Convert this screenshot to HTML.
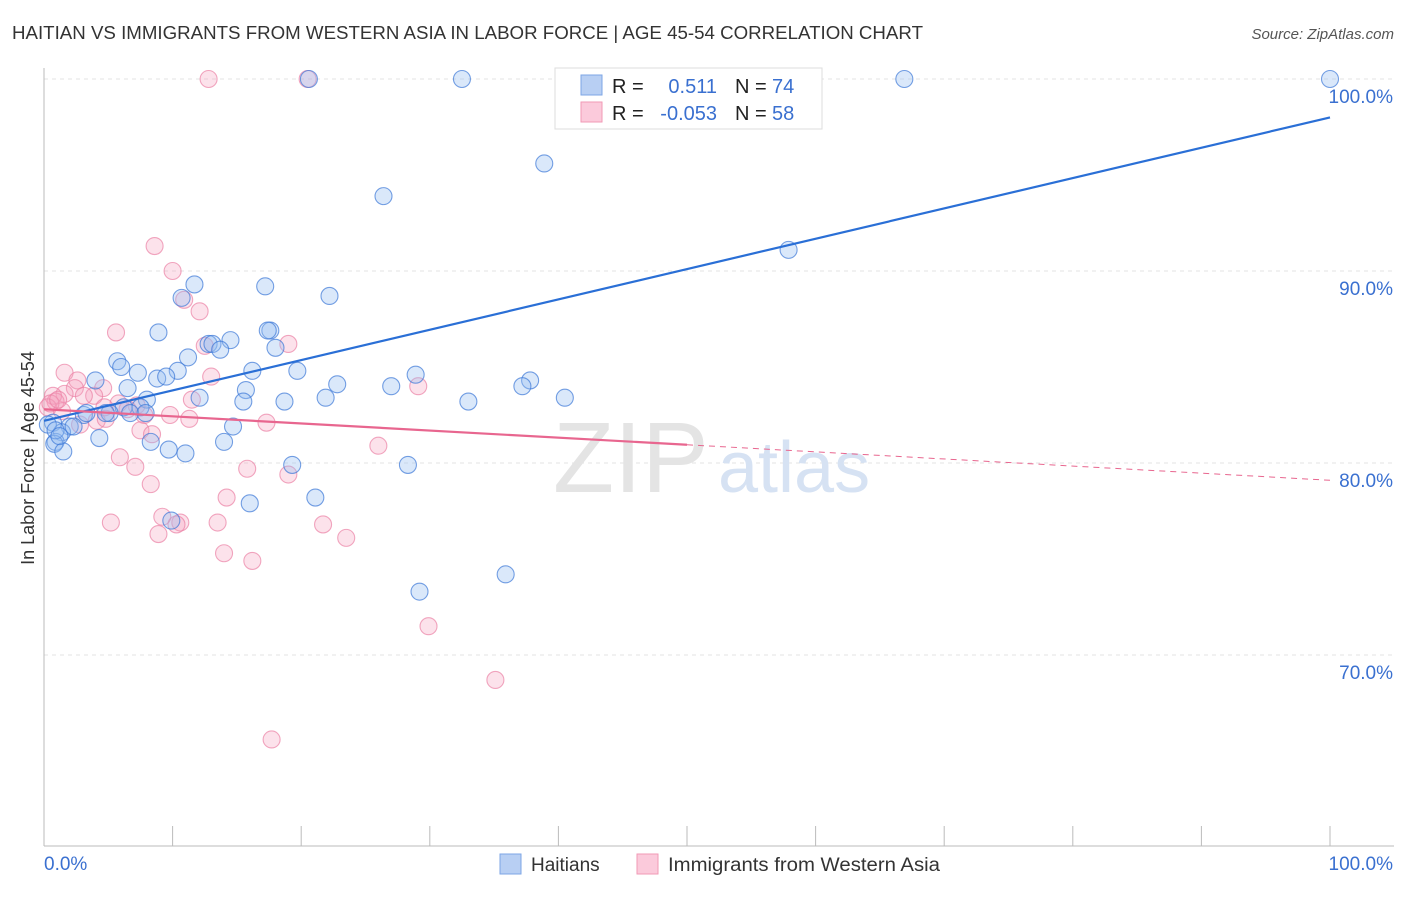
<!DOCTYPE html>
<html><head><meta charset="utf-8"><style>
body{margin:0;background:#fff;font-family:"Liberation Sans",sans-serif;}
svg text{font-family:"Liberation Sans",sans-serif;}
</style></head><body>
<svg id="chart" width="1406" height="892" xmlns="http://www.w3.org/2000/svg">
<text x="12" y="39" font-size="18" fill="#333" textLength="911" lengthAdjust="spacingAndGlyphs">HAITIAN VS IMMIGRANTS FROM WESTERN ASIA IN LABOR FORCE | AGE 45-54 CORRELATION CHART</text>
<text x="1394" y="39" font-size="15" fill="#555" font-style="italic" text-anchor="end">Source: ZipAtlas.com</text>
<g id="grid"></g>
<text x="553" y="492" font-size="100" fill="#e4e4e4" font-family="Liberation Serif">ZIP</text>
<text x="718" y="492" font-size="72" fill="#d6e2f3">atlas</text>
<text transform="translate(34,458) rotate(-90)" font-size="18" fill="#333" text-anchor="middle">In Labor Force | Age 45-54</text>
<g id="pts"></g>
<g id="lines"></g>
<g>
<rect x="555" y="68" width="267" height="61" fill="#fff" stroke="#ddd"/>
<rect x="581" y="75" width="21" height="20" fill="#b8cff3" stroke="#7da6e6"/>
<rect x="581" y="102" width="21" height="20" fill="#fbcadb" stroke="#f199b6"/>
<text x="612" y="93" font-size="20" fill="#222">R =</text>
<text x="717" y="93" font-size="20" fill="#3a70d0" text-anchor="end">0.511</text>
<text x="735" y="93" font-size="20" fill="#222">N =</text>
<text x="772" y="93" font-size="20" fill="#3a70d0">74</text>
<text x="612" y="120" font-size="20" fill="#222">R =</text>
<text x="717" y="120" font-size="20" fill="#3a70d0" text-anchor="end">-0.053</text>
<text x="735" y="120" font-size="20" fill="#222">N =</text>
<text x="772" y="120" font-size="20" fill="#3a70d0">58</text>
</g>
<g>
<rect x="500" y="854" width="21" height="20" fill="#b8cff3" stroke="#7da6e6"/>
<text x="531" y="871" font-size="19" fill="#333">Haitians</text>
<rect x="637" y="854" width="21" height="20" fill="#fbcadb" stroke="#f199b6"/>
<text x="668" y="871" font-size="19" fill="#333" textLength="272" lengthAdjust="spacingAndGlyphs">Immigrants from Western Asia</text>
</g>
</svg>
<script>
const yTicks=[100,90,80,70];
const xTickLabels=["0.0%","100.0%"];
const blueX=[20.6,32.5,66.9,100,38.9,26.4,57.9,11.7,17.2,10.7,22.2,8.9,17.6,17.4,14.5,12.8,13.1,13.7,18.0,11.2,5.7,6.0,7.3,10.4,19.7,16.2,28.9,37.8,4.0,8.8,9.5,6.5,15.7,22.8,27.0,37.2,40.5,12.1,21.9,18.7,8.0,15.5,33.0,6.2,7.5,5.1,3.1,4.8,3.3,14.7,0.7,2.0,1.4,2.3,8.3,14.0,0.9,4.3,0.8,1.5,9.7,11.0,19.3,28.3,21.1,16.0,9.9,35.9,29.2,0.3,0.9,6.7,7.9,1.2];
const blueY=[100,100,100,100,95.6,93.9,91.1,89.3,89.2,88.6,88.7,86.8,86.9,86.9,86.4,86.2,86.2,85.9,86.0,85.5,85.3,85.0,84.7,84.8,84.8,84.8,84.6,84.3,84.3,84.4,84.5,83.9,83.8,84.1,84.0,84.0,83.4,83.4,83.4,83.2,83.3,83.2,83.2,82.9,82.9,82.6,82.5,82.6,82.6,81.9,82.1,81.9,81.6,81.9,81.1,81.1,81.1,81.3,81.0,80.6,80.7,80.5,79.9,79.9,78.2,77.9,77.0,74.2,73.3,82.0,81.7,82.6,82.6,81.4];
const pinkX=[12.8,20.5,8.6,10.0,10.9,12.1,5.6,19.0,12.5,1.6,2.6,13.0,29.1,2.4,4.6,3.9,1.6,0.7,0.9,3.1,5.8,11.5,7.2,6.5,7.8,11.3,17.3,4.1,7.5,4.8,5.9,7.1,15.8,19.0,8.3,26.0,14.2,5.2,9.2,10.6,13.5,10.3,8.9,21.7,23.5,14.0,16.2,29.9,35.1,17.7,0.3,1.4,8.4,2.8,0.5,1.1,4.7,9.8];
const pinkY=[100,100,91.3,90.0,88.5,87.9,86.8,86.2,86.1,84.7,84.3,84.5,84.0,83.9,83.9,83.5,83.6,83.5,83.2,83.5,83.1,83.3,83.0,82.8,82.5,82.3,82.1,82.2,81.7,82.3,80.3,79.8,79.7,79.4,78.9,80.9,78.2,76.9,77.2,76.9,76.9,76.8,76.3,76.8,76.1,75.3,74.9,71.5,68.7,65.6,82.9,82.7,81.5,82.0,83.1,83.3,82.9,82.5];
const blueTrend=[82.2,98.0];
const pinkTrend=[82.8,79.1];
const pinkSolidEnd=50;
const X0=44,X1=1330,Y100=79,PER=19.2;
const xs=v=>X0+(X1-X0)*v/100;
const ys=v=>Y100+(100-v)*PER;
const NS="http://www.w3.org/2000/svg";
function mk(tag,attrs,parent){const e=document.createElementNS(NS,tag);for(const k in attrs)e.setAttribute(k,attrs[k]);parent.appendChild(e);return e;}
const grid=document.getElementById('grid');
yTicks.forEach(t=>{
const l=mk('line',{x1:X0,x2:1394,y1:ys(t),y2:ys(t),stroke:'#e3e3e3','stroke-dasharray':'4,4'},grid);


const tx=mk('text',{x:1393,y:ys(t)+24,'font-size':19,fill:'#3a70d0','text-anchor':'end'},grid);
tx.textContent=t.toFixed(1)+'%';


});
const ax=mk('line',{x1:X0,x2:X0,y1:68,y2:846,stroke:'#bbb'},grid);


const bx=mk('line',{x1:X0,x2:1394,y1:846,y2:846,stroke:'#bbb'},grid);


for(let i=0;i<=10;i++){const tk=mk('line',{x1:xs(i*10),x2:xs(i*10),y1:826,y2:846,stroke:'#bbb'},grid);

}
const xl0=mk('text',{x:44,y:870,'font-size':19,fill:'#3a70d0'},grid);xl0.textContent=xTickLabels[0];


const xl1=mk('text',{x:1393,y:870,'font-size':19,fill:'#3a70d0','text-anchor':'end'},grid);xl1.textContent=xTickLabels[1];


const pts=document.getElementById('pts');
pinkX.forEach((x,i)=>{const c=mk('circle',{cx:xs(x),cy:ys(pinkY[i]),r:8.5,fill:'rgba(246,160,190,0.3)',stroke:'rgba(235,130,165,0.7)','stroke-width':1.1},pts);

});
blueX.forEach((x,i)=>{const c=mk('circle',{cx:xs(x),cy:ys(blueY[i]),r:8.5,fill:'rgba(150,190,240,0.35)',stroke:'rgba(60,120,215,0.7)','stroke-width':1.1},pts);

});
const lines=document.getElementById('lines');
const bl=mk('line',{x1:xs(0),y1:ys(blueTrend[0]),x2:xs(100),y2:ys(blueTrend[1]),stroke:'#2a6fd6','stroke-width':2.2},lines);


const pm=pinkTrend[0]+(pinkTrend[1]-pinkTrend[0])*pinkSolidEnd/100;
const pl=mk('line',{x1:xs(0),y1:ys(pinkTrend[0]),x2:xs(pinkSolidEnd),y2:ys(pm),stroke:'#e8668f','stroke-width':2.2},lines);


const pd=mk('line',{x1:xs(pinkSolidEnd),y1:ys(pm),x2:xs(100),y2:ys(pinkTrend[1]),stroke:'#e8668f','stroke-width':1,'stroke-dasharray':'6,5'},lines);


</script>
</body></html>
